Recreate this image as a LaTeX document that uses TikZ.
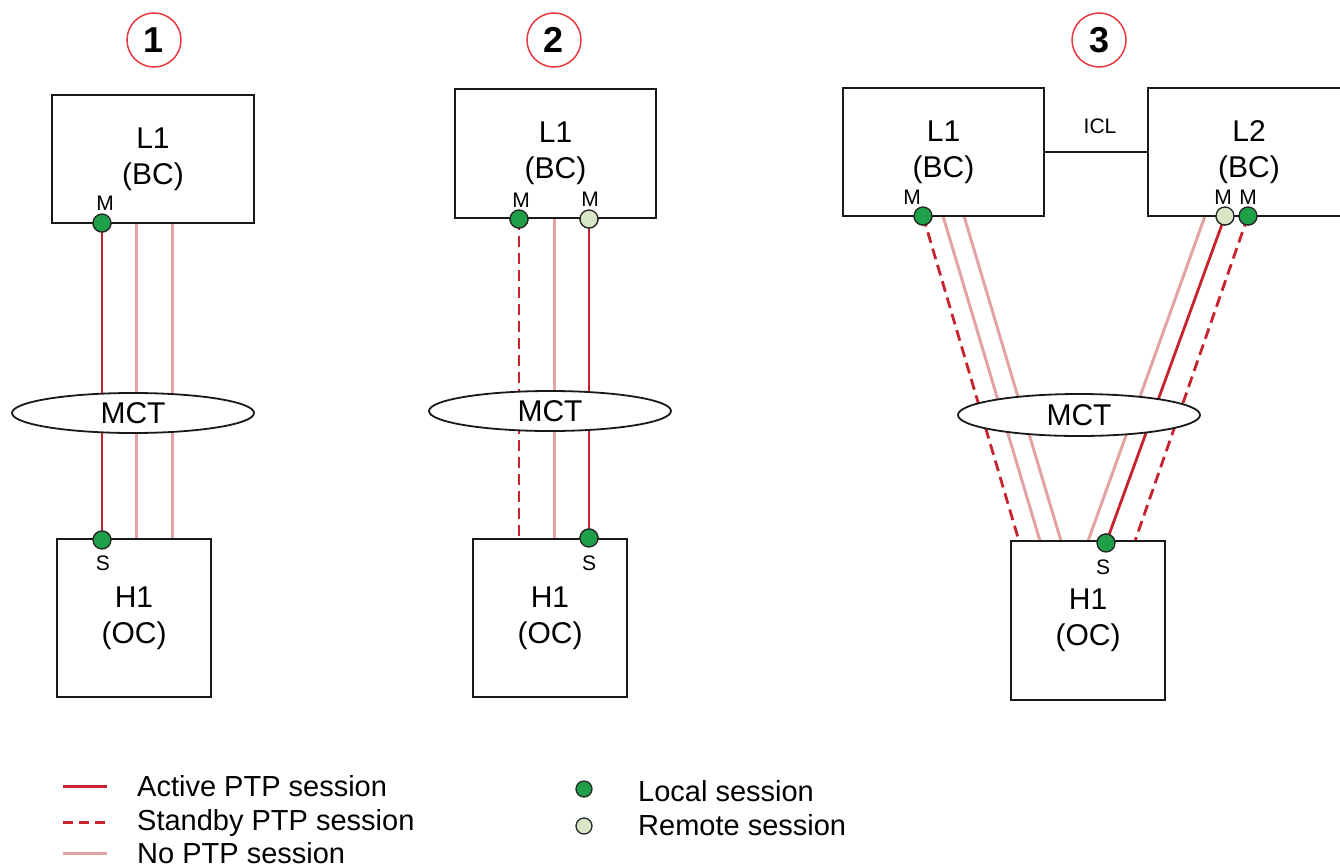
\documentclass[tikz,border=0pt]{standalone}
\usepackage{fontspec}
\setmainfont{Liberation Sans}
\usetikzlibrary{shapes.geometric}
\definecolor{ptpred}{HTML}{C8222C}
\definecolor{ptppink}{HTML}{E4A3A3}
\definecolor{locgreen}{HTML}{1E9F48}
\definecolor{remgreen}{HTML}{D8E6C6}
\definecolor{numred}{HTML}{E8383D}
\tikzset{
  devbox/.style={draw=black!90, line width=2.8pt, fill=white, inner sep=0pt, align=center,
    font=\fontsize{30}{36}\selectfont},
  activeln/.style={draw=ptpred, line width=2.8pt},
  standbyln/.style={draw=ptpred, line width=2.8pt, dash pattern=on 11pt off 6pt},
  noptpln/.style={draw=ptppink, line width=3pt},
  localdot/.style={circle, draw=black!85, line width=1.3pt, fill=locgreen, minimum size=18pt, inner sep=0pt},
  remotedot/.style={localdot, fill=remgreen},
  mctshape/.style={ellipse, draw=black!90, line width=1.8pt, fill=white, inner sep=0pt,
    minimum width=242pt, minimum height=40pt, font=\fontsize{30}{30}\selectfont},
  numcircle/.style={circle, draw=numred, line width=1.5pt, minimum size=54pt, inner sep=0pt,
    font=\bfseries\fontsize{36}{36}\selectfont},
  smalllbl/.style={inner sep=0pt, font=\fontsize{21}{21}\selectfont},
  legtext/.style={inner sep=0pt, anchor=base west, font=\fontsize{29}{29}\selectfont},
  legline/.style={line width=3pt}
}
\begin{document}
\begin{tikzpicture}[x=1pt,y=-1pt]
\useasboundingbox (0,0) rectangle (1340,867);

% ---------------- Panel 1 ----------------
\node[numcircle] (n1) at (154,40) {1};
\coordinate (a1top) at (136,223);
\coordinate (a1bot) at (136,539);
\coordinate (a2top) at (172,223);
\coordinate (a2bot) at (172,539);
\node[localdot] (m1) at (102,223) {};
\node[localdot] (s1) at (102,540) {};
\draw[activeln] (m1) -- (s1);
\draw[noptpln] (a1top) -- (a1bot);
\draw[noptpln] (a2top) -- (a2bot);
\node[mctshape] (mct1) at (133,413) {MCT};
\node[devbox, minimum width=202pt, minimum height=128pt] (l1a) at (153,159) {L1\\(BC)};
\node[devbox, minimum width=154pt, minimum height=158pt] (h1a) at (134,618) {H1\\(OC)};
\node[localdot] at (m1) {};
\node[localdot] at (s1) {};
\node[smalllbl] (m1l) at (105,203) {M};
\node[smalllbl] (s1l) at (103,563) {S};

% ---------------- Panel 2 ----------------
\node[numcircle] (n2) at (554,40) {2};
\coordinate (b1top) at (519,219);
\coordinate (b1bot) at (519,539);
\coordinate (b2top) at (554,218);
\coordinate (b2bot) at (554,539);
\node[localdot] (m2a) at (519,219) {};
\node[remotedot] (m2b) at (589,219) {};
\node[localdot] (s2) at (589,538) {};
\draw[standbyln] (b1top) -- (b1bot);
\draw[noptpln] (b2top) -- (b2bot);
\draw[activeln] (m2b) -- (s2);
\node[mctshape] (mct2) at (550,411) {MCT};
\node[devbox, minimum width=201pt, minimum height=129pt] (l1b) at (555.5,153.5) {L1\\(BC)};
\node[devbox, minimum width=154pt, minimum height=158pt] (h1b) at (550,618) {H1\\(OC)};
\node[localdot] at (m2a) {};
\node[remotedot] at (m2b) {};
\node[localdot] at (s2) {};
\node[smalllbl] (m2al) at (521,200) {M};
\node[smalllbl] (m2bl) at (590,199) {M};
\node[smalllbl] (s2l) at (589,563) {S};

% ---------------- Panel 3 ----------------
\node[numcircle] (n3) at (1099,40) {3};
\node[localdot] (m3a) at (923,216) {};
\node[remotedot] (m3b) at (1225,216) {};
\node[localdot] (m3c) at (1248,216) {};
\node[localdot] (s3) at (1106,543) {};
\coordinate (c1bot) at (1019,541);
\coordinate (c2top) at (943,216);
\coordinate (c2bot) at (1040,541);
\coordinate (c3top) at (964,216);
\coordinate (c3bot) at (1061,541);
\coordinate (c4top) at (1205,216);
\coordinate (c4bot) at (1088,541);
\coordinate (c6bot) at (1135,541);
\draw[standbyln] (m3a.center) -- (c1bot);
\draw[noptpln] (c2top) -- (c2bot);
\draw[noptpln] (c3top) -- (c3bot);
\draw[noptpln] (c4top) -- (c4bot);
\draw[activeln] (m3b.center) -- (s3.center);
\draw[standbyln] (m3c.center) -- (c6bot);
\node[mctshape, minimum height=42pt] (mct3) at (1079,415) {MCT};
\node[devbox, minimum width=201pt, minimum height=128pt] (l1c) at (943.5,152) {L1\\(BC)};
\node[devbox, minimum width=202pt, minimum height=128pt] (l2c) at (1249,152) {L2\\(BC)};
\node[devbox, minimum width=154pt, minimum height=159pt] (h1c) at (1088,620.5) {H1\\(OC)};
\draw[line width=2.8pt, black!90] (l1c.east) -- (l2c.west);
\node[smalllbl] (icl) at (1100,126) {ICL};
\node[localdot] at (m3a) {};
\node[remotedot] at (m3b) {};
\node[localdot] at (m3c) {};
\node[localdot] at (s3) {};
\node[smalllbl] (m3al) at (912,197) {M};
\node[smalllbl] (m3bl) at (1223,197) {M};
\node[smalllbl] (m3cl) at (1248,197) {M};
\node[smalllbl] (s3l) at (1103,567) {S};

% ---------------- Legend ----------------
\coordinate (la1) at (63,786);  \coordinate (la2) at (107,786);
\coordinate (lb1) at (63,822);  \coordinate (lb2) at (107,822);
\coordinate (lc1) at (63,853);  \coordinate (lc2) at (107,853);
\draw[activeln, legline] (la1) -- (la2);
\draw[standbyln, legline, dash pattern=on 10pt off 6pt] (lb1) -- (lb2);
\draw[noptpln, legline] (lc1) -- (lc2);
\node[legtext] (lta) at (137,796) {Active PTP session};
\node[legtext] (ltb) at (137,830) {Standby PTP session};
\node[legtext] (ltc) at (137,863) {No PTP session};
\node[localdot, minimum size=16pt] (ld1) at (584,789) {};
\node[remotedot, minimum size=16pt] (ld2) at (584,826) {};
\node[legtext] (ltd) at (638,801) {Local session};
\node[legtext] (lte) at (638,835) {Remote session};
\end{tikzpicture}
\end{document}
